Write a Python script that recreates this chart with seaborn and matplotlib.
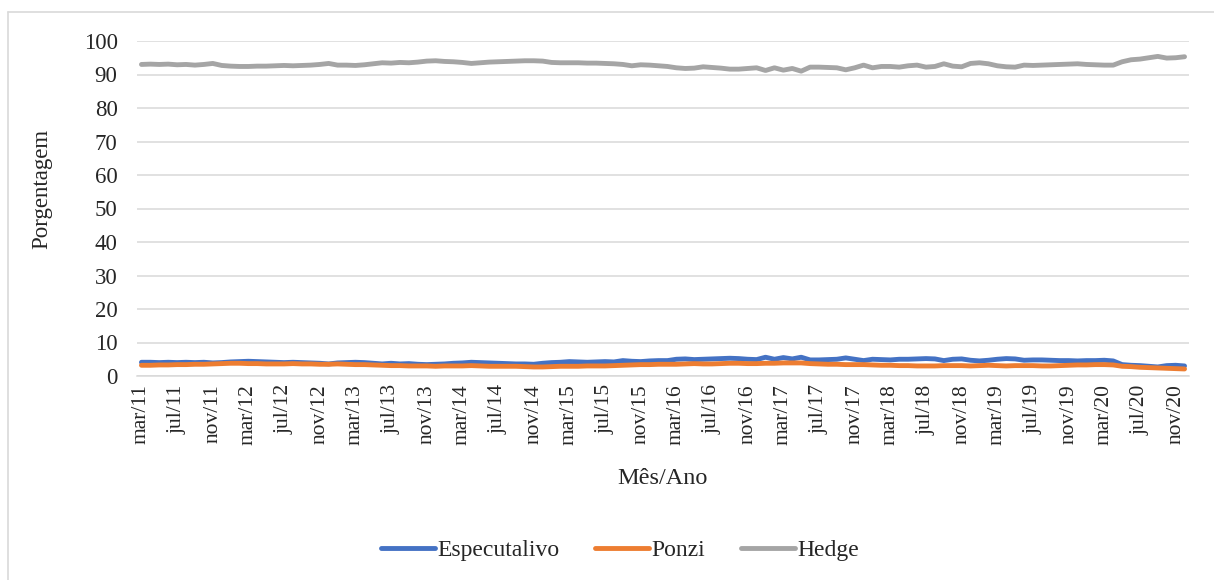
import numpy as np
import pandas as pd
import matplotlib
matplotlib.use("Agg")
import matplotlib.pyplot as plt
from matplotlib.lines import Line2D
import seaborn as sns

# Monthly shares (%) from mar/11 to dez/20
especulativo = [
    4.1, 4.1, 4.0, 4.1, 4.0, 4.1, 4.0, 4.1, 3.9, 4.0,
    4.2, 4.3, 4.4, 4.3, 4.2, 4.1, 4.0, 4.1, 4.0, 3.9,
    3.8, 3.6, 3.9, 4.0, 4.1, 4.0, 3.8, 3.6, 3.8, 3.6,
    3.7, 3.5, 3.4, 3.5, 3.6, 3.8, 3.9, 4.1, 4.0, 3.9,
    3.8, 3.7, 3.6, 3.6, 3.5, 3.8, 4.0, 4.1, 4.3, 4.2,
    4.1, 4.2, 4.3, 4.2, 4.6, 4.4, 4.3, 4.5, 4.6, 4.6,
    5.0, 5.1, 4.9, 5.0, 5.1, 5.2, 5.3, 5.2, 5.0, 4.9,
    5.6, 5.0, 5.5, 5.1, 5.6, 4.8, 4.8, 4.9, 5.0, 5.4,
    5.0, 4.6, 5.0, 4.9, 4.8, 5.0, 5.0, 5.1, 5.2, 5.1,
    4.6, 5.0, 5.1, 4.7, 4.5, 4.7, 5.0, 5.2, 5.1, 4.7,
    4.8, 4.8, 4.7, 4.6, 4.6, 4.5, 4.6, 4.6, 4.7, 4.5,
    3.4, 3.2, 3.1, 2.9, 2.7, 3.1, 3.2, 3.0,
]
ponzi = [
    3.2, 3.2, 3.3, 3.3, 3.4, 3.4, 3.5, 3.5, 3.6, 3.7,
    3.8, 3.8, 3.7, 3.7, 3.6, 3.6, 3.6, 3.7, 3.6, 3.6,
    3.5, 3.5, 3.6, 3.5, 3.4, 3.4, 3.3, 3.2, 3.1, 3.1,
    3.0, 3.0, 3.0, 2.9, 3.0, 3.0, 3.0, 3.1, 3.0, 2.9,
    2.9, 2.9, 2.9, 2.8, 2.7, 2.7, 2.8, 2.9, 2.9, 2.9,
    3.0, 3.0, 3.0, 3.1, 3.2, 3.3, 3.4, 3.4, 3.5, 3.5,
    3.5, 3.6, 3.7, 3.6, 3.6, 3.7, 3.8, 3.8, 3.7, 3.7,
    3.8, 3.8, 3.9, 3.9, 3.9, 3.7, 3.6, 3.5, 3.5, 3.4,
    3.4, 3.4, 3.3, 3.2, 3.2, 3.1, 3.1, 3.0, 3.0, 3.0,
    3.1, 3.1, 3.1, 3.0, 3.1, 3.2, 3.1, 3.0, 3.1, 3.1,
    3.1, 3.0, 3.0, 3.1, 3.2, 3.3, 3.3, 3.4, 3.4, 3.3,
    2.9, 2.8, 2.6, 2.5, 2.4, 2.3, 2.2, 2.1,
]
hedge = [
    93.0, 93.1, 93.0, 93.1, 92.9, 93.0, 92.8, 93.0, 93.3, 92.7,
    92.5, 92.4, 92.4, 92.5, 92.5, 92.6, 92.7, 92.6, 92.7, 92.8,
    93.0, 93.3, 92.8, 92.8, 92.7, 92.9, 93.2, 93.5, 93.4, 93.6,
    93.5, 93.7, 94.0, 94.1, 93.9, 93.8, 93.6, 93.3, 93.5, 93.7,
    93.8, 93.9, 94.0, 94.1, 94.1, 94.0, 93.6, 93.5, 93.5, 93.5,
    93.4, 93.4, 93.3, 93.2, 93.0, 92.6, 92.9, 92.8, 92.6, 92.4,
    92.0, 91.8, 91.9, 92.3, 92.1, 91.9, 91.6, 91.6, 91.8, 92.0,
    91.2, 92.0, 91.3, 91.8, 91.0, 92.2, 92.2, 92.1, 92.0, 91.4,
    92.0, 92.8, 92.0, 92.4, 92.4, 92.2, 92.6, 92.8, 92.2, 92.4,
    93.2, 92.5, 92.3, 93.3, 93.5, 93.2, 92.6, 92.3, 92.2, 92.8,
    92.7, 92.8, 92.9, 93.0, 93.1, 93.2, 93.0, 92.9, 92.8, 92.8,
    93.8, 94.4, 94.6, 95.0, 95.4, 94.9, 95.0, 95.3,
]

tick_labels = [
    "mar/11", "jul/11", "nov/11", "mar/12", "jul/12", "nov/12",
    "mar/13", "jul/13", "nov/13", "mar/14", "jul/14", "nov/14",
    "mar/15", "jul/15", "nov/15", "mar/16", "jul/16", "nov/16",
    "mar/17", "jul/17", "nov/17", "mar/18", "jul/18", "nov/18",
    "mar/19", "jul/19", "nov/19", "mar/20", "jul/20", "nov/20",
]
series_names = ["Especutalivo", "Ponzi", "Hedge"]
series_colors = ["#4472C4", "#ED7D31", "#A5A5A5"]

n = len(hedge)
wide = pd.DataFrame({
    "idx": np.arange(n),
    "Especutalivo": especulativo,
    "Ponzi": ponzi,
    "Hedge": hedge,
})
long = wide.melt(id_vars="idx", var_name="serie", value_name="valor")

sns.set_style("white")
plt.rcParams["font.family"] = ["Liberation Serif", "DejaVu Serif"]

W, H = 1214, 580
fig = plt.figure(figsize=(W / 100, H / 100), dpi=100)
ax = fig.add_axes([137 / W, 1 - 376 / H, 1052 / W, 335 / H])

sns.lineplot(
    data=long, x="idx", y="valor", hue="serie", hue_order=series_names,
    palette=dict(zip(series_names, series_colors)), linewidth=3.5,
    legend=False, ax=ax, solid_capstyle="round", solid_joinstyle="round",
)

ax.set_xlim(-0.5, n - 0.5)
ax.set_ylim(0, 100)
ax.set_yticks(np.arange(0, 101, 10))
ax.yaxis.grid(True, color="#d9d9d9", linewidth=1.1)
ax.set_axisbelow(True)

ax.set_xticks(np.arange(0, n, 4)[: len(tick_labels)])
ax.set_xticklabels(tick_labels, rotation=90)
ax.set_xticks(np.arange(-0.5, n - 1, 4), minor=True)
ax.tick_params(axis="x", which="major", length=0, pad=6, labelsize=15.5)
ax.tick_params(axis="x", which="minor", length=5, width=1.1,
               color="#d9d9d9", direction="out")
ax.tick_params(axis="y", length=0, pad=14, labelsize=16.5)

for side in ("top", "right", "left"):
    ax.spines[side].set_visible(False)
ax.spines["bottom"].set_color("#d9d9d9")
ax.spines["bottom"].set_linewidth(1.1)

ax.set_xlabel("Mês/Ano", fontsize=17.5)
ax.set_ylabel("Porgentagem", fontsize=16.5)
ax.xaxis.set_label_coords((662 - 137) / 1052, -(468 - 376) / 335)
ax.yaxis.set_label_coords(-(137 - 52) / 1052, (376 - 189) / 335)

handles = [Line2D([0], [0], color=c, lw=3.5, solid_capstyle="round")
           for c in series_colors]
fig.legend(handles, series_names, loc="center", ncol=3, frameon=False,
           bbox_to_anchor=(620 / W, 1 - 550 / H), fontsize=17,
           handlelength=2.3, handletextpad=0.1, columnspacing=1.5)

# chart-area border (left and top edges)
fig.add_artist(Line2D([8 / W, 8 / W], [0, 1 - 12 / H], transform=fig.transFigure,
                      color="#d9d9d9", lw=1.2))
fig.add_artist(Line2D([8 / W, 1], [1 - 12 / H, 1 - 12 / H], transform=fig.transFigure,
                      color="#d9d9d9", lw=1.2))

fig.savefig("out.png", dpi=100, facecolor="white")
